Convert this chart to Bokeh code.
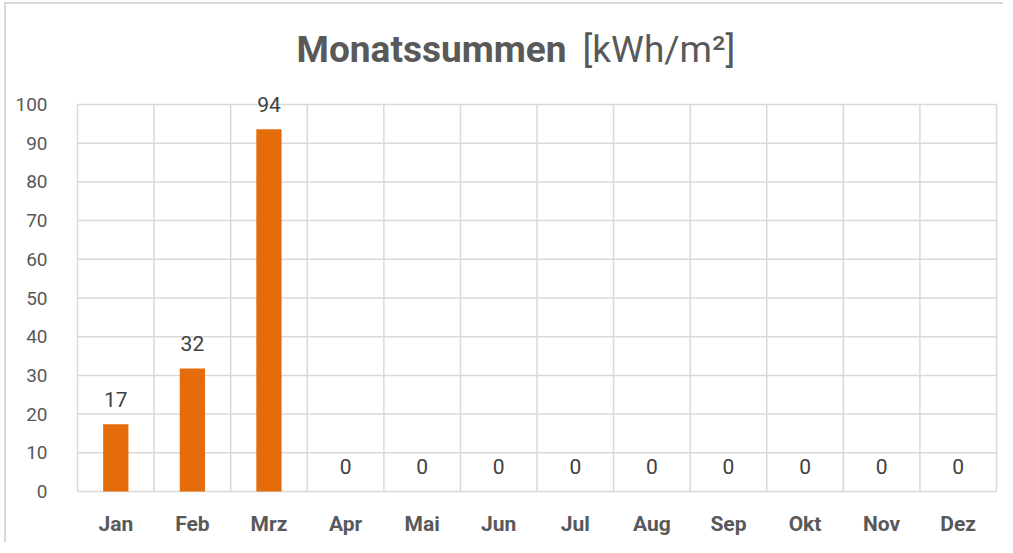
from bokeh.plotting import figure
from bokeh.models import Range1d, FixedTicker, Label, ColumnDataSource
from bokeh.core.properties import value
from bokeh.embed import file_html
from bokeh.resources import INLINE

months = ["Jan", "Feb", "Mrz", "Apr", "Mai", "Jun", "Jul", "Aug", "Sep", "Okt", "Nov", "Dez"]
values = [17.4, 31.8, 93.6, 0, 0, 0, 0, 0, 0, 0, 0, 0]
y_ticks = [0, 10, 20, 30, 40, 50, 60, 70, 80, 90, 100]
title_bold = "Monatssummen"
title_unit = "[kWh/m²]"

FONT = "Roboto"
GRID = "#d9d9d9"
N = len(months)
YMAX = max(y_ticks)

xs = [i + 0.5 for i in range(N)]
labels = [f"{v:.0f}" for v in values]
src = ColumnDataSource(dict(x=xs, top=values, label=labels))

# pixel layout helpers (scale: 919px per 12 categories, 3.87px per unit)
px_x = 919 / N
px_y = 3.87
pad = 4

p = figure(width=999, height=540, output_backend="svg", toolbar_location=None,
           x_range=Range1d(-pad / px_x, N + pad / px_x),
           y_range=Range1d(-pad / px_y, 487 / px_y),
           min_border_left=67, min_border_right=5, min_border_top=0, min_border_bottom=49)
p.styles = {"margin-left": "4px", "margin-top": "2px",
            "border-left": "2px solid #d9d9d9", "border-top": "2px solid #d9d9d9"}
p.outline_line_color = None
p.background_fill_color = "white"
p.border_fill_color = "white"
p.xgrid.visible = False
p.ygrid.visible = False

# grid lines (category boundaries and value ticks)
bounds = list(range(N + 1))
p.segment(x0=bounds, y0=[0] * len(bounds), x1=bounds, y1=[YMAX] * len(bounds),
          line_color=GRID, line_width=1.5)
p.segment(x0=[0] * len(y_ticks), y0=y_ticks, x1=[N] * len(y_ticks), y1=y_ticks,
          line_color=GRID, line_width=1.5)

p.vbar(x="x", top="top", bottom=0, width=0.33, source=src, fill_color="#E46C0A", line_color=None)
p.text(x="x", y="top", text="label", source=src, text_align="center", text_baseline="alphabetic",
       y_offset=-25, text_font=value(FONT), text_font_size="21px", text_color="#404040")

p.xaxis.ticker = FixedTicker(ticks=xs)
p.xaxis.major_label_overrides = {x: m for x, m in zip(xs, months)}
p.xaxis.major_label_text_font = FONT
p.xaxis.major_label_text_font_style = "bold"
p.xaxis.major_label_text_font_size = "21px"
p.xaxis.major_label_text_color = "#595959"
p.xaxis.major_label_standoff = 10
p.xaxis.axis_line_color = None
p.xaxis.major_tick_line_color = None
p.xaxis.minor_tick_line_color = None

p.yaxis.ticker = FixedTicker(ticks=y_ticks)
p.yaxis.major_label_text_font = FONT
p.yaxis.major_label_text_font_size = "19px"
p.yaxis.major_label_text_color = "#595959"
p.yaxis.major_label_standoff = 20
p.yaxis.axis_line_color = None
p.yaxis.major_tick_line_color = None
p.yaxis.minor_tick_line_color = None

# title in two parts, placed in the empty area above the plot
p.add_layout(Label(x=6.385, y=114.2, text=title_bold, text_align="right", text_baseline="alphabetic",
                   text_font=FONT, text_font_style="bold", text_font_size="37px", text_color="#595959"))
p.add_layout(Label(x=6.594, y=114.2, text=title_unit, text_align="left", text_baseline="alphabetic",
                   text_font=FONT, text_font_size="37px", text_color="#595959"))

open("out.html", "w").write(file_html(p, INLINE))
